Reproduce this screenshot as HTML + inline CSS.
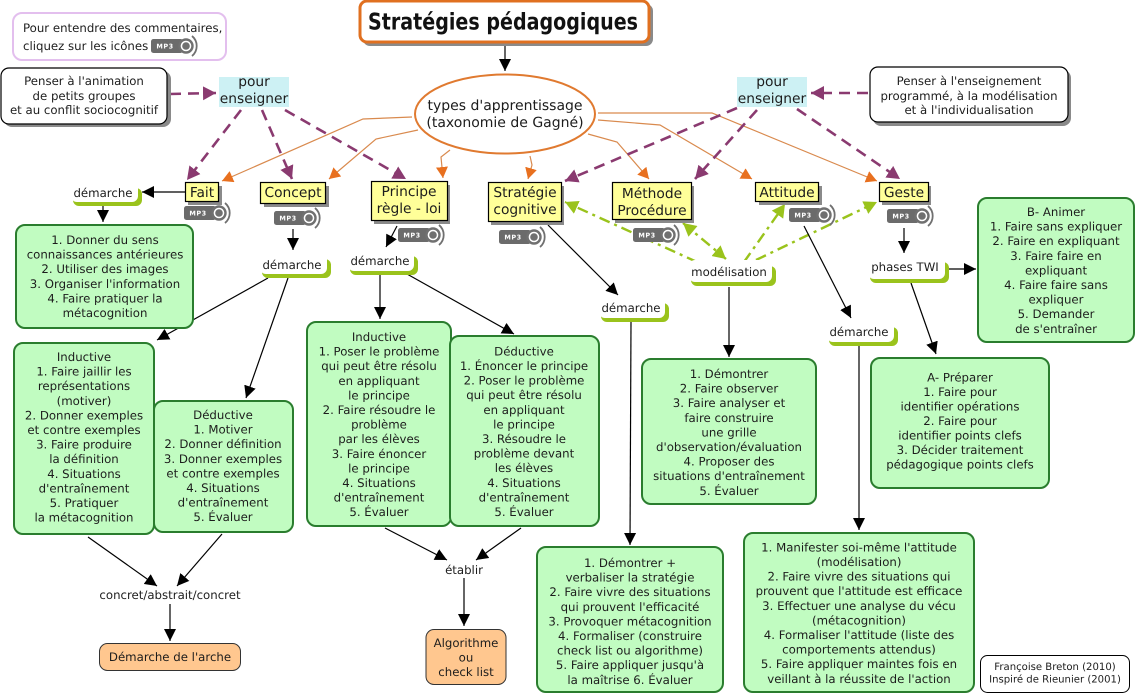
<!DOCTYPE html>
<html lang="fr"><head><meta charset="utf-8"><title>Stratégies pédagogiques</title>
<style>
html,body{margin:0;padding:0;background:#fff;width:1136px;height:695px;overflow:hidden}
svg{display:block}
text{font-family:"DejaVu Sans","Liberation Sans",sans-serif;fill:#1c1c1c;text-anchor:middle;text-rendering:geometricPrecision}
.t{font-size:11.75px}
.y{font-size:13.8px}
.k{stroke:#000;stroke-width:1.2;fill:none;marker-end:url(#mk)}
.p{stroke:#8a3a70;stroke-width:2.6;fill:none;stroke-dasharray:11 7;marker-end:url(#mp)}
.o{stroke:#d98a4e;stroke-width:1.2;fill:none;marker-end:url(#mo)}
.g{stroke:#9ac31c;stroke-width:2.4;fill:none;stroke-dasharray:11 5 3 5;marker-end:url(#mg)}
.b{fill:#c1fcc1;stroke:#2a7d2e;stroke-width:2}
.ye{fill:#ffff99;stroke:#000;stroke-width:1.2}
.sh{fill:#8a8a8a}
.c{fill:#cdf1f4}
.or{fill:#ffc78f;stroke:#333;stroke-width:1}
.gl{fill:#9ac31c}
.m{font-size:6.5px;font-weight:bold;fill:#fff;letter-spacing:.5px}
</style></head><body>
<svg width="1136" height="695" viewBox="0 0 1136 695" xmlns="http://www.w3.org/2000/svg">
<defs>
<marker id="mk" markerUnits="userSpaceOnUse" markerWidth="12" markerHeight="12" refX="12" refY="6" orient="auto"><path d="M0,0L12,6L0,12z" fill="#000"/></marker>
<marker id="mp" markerUnits="userSpaceOnUse" markerWidth="14" markerHeight="14" refX="13" refY="7" orient="auto"><path d="M0,0L13,7L0,14z" fill="#8a3a70"/></marker>
<marker id="mo" markerUnits="userSpaceOnUse" markerWidth="12" markerHeight="12" refX="11" refY="6" orient="auto"><path d="M0,0L11,6L0,12z" fill="#e8701f"/></marker>
<marker id="mg" markerUnits="userSpaceOnUse" markerWidth="14" markerHeight="14" refX="13" refY="7" orient="auto"><path d="M0,0L13,7L0,14z" fill="#9ac31c"/></marker>
<marker id="mgs" markerUnits="userSpaceOnUse" markerWidth="14" markerHeight="14" refX="0" refY="7" orient="auto"><path d="M13,0L0,7L13,14z" fill="#9ac31c"/></marker>
</defs>

<!-- orange connectors -->
<polyline class="o" points="412,117 363,119 222,181"/>
<polyline class="o" points="418,130 376,139 329,179"/>
<polyline class="o" points="450,150 441,157 443,178"/>
<polyline class="o" points="530,156 532,165 528,179"/>
<polyline class="o" points="588,134 617,142 649,179"/>
<polyline class="o" points="598,120 660,125 752,179"/>
<polyline class="o" points="598,113 712,113 877,181"/>

<!-- purple dashed -->
<path class="p" d="M170,94L216,93"/>
<path class="p" d="M241,110L187,180"/>
<path class="p" d="M262,110L292,179"/>
<path class="p" d="M285,110L406,179"/>
<path class="p" d="M868,93L811,93"/>
<path class="p" d="M737,108L565,181"/>
<path class="p" d="M757,110L695,179"/>
<path class="p" d="M797,109L900,179"/>

<!-- green dash-dot -->
<path class="g" d="M697,262L565,202"/>
<path class="g" style="marker-start:url(#mgs)" d="M683,223L726,259"/>
<path class="g" d="M744,262L785,204"/>
<path class="g" d="M756,260L877,202"/>

<!-- black connectors -->
<path class="k" d="M505,46V71"/>
<path class="k" d="M185,192H142"/>
<path class="k" d="M103,206V222"/>
<path class="k" d="M293,229V250"/>
<path class="k" d="M268,278L157,340"/>
<path class="k" d="M288,278L246,398"/>
<path class="k" d="M397,226L386,247"/>
<path class="k" d="M380,275V319"/>
<path class="k" d="M407,274L514,334"/>
<path class="k" d="M548,225L618,295"/>
<path class="k" d="M631,322L630,545"/>
<path class="k" d="M729,287V357"/>
<path class="k" d="M804,226L851,318"/>
<path class="k" d="M859,346V530"/>
<path class="k" d="M904,228V253"/>
<path class="k" d="M949,269H976"/>
<path class="k" d="M911,283L936,354"/>
<path class="k" d="M88,537L157,586"/>
<path class="k" d="M222,534L177,586"/>
<path class="k" d="M170,604V641"/>
<path class="k" d="M385,528L447,560"/>
<path class="k" d="M521,528L476,560"/>
<path class="k" d="M464,578V626"/>

<!-- title -->
<rect class="sh" x="363" y="4" width="290" height="42" rx="7"/>
<rect x="360" y="1" width="289" height="41" rx="7" fill="#fff" stroke="#e07020" stroke-width="3"/>
<text x="503" y="29.500" textLength="270" lengthAdjust="spacingAndGlyphs" style="font-size:23px;font-weight:bold;fill:#111">Stratégies pédagogiques</text>

<!-- legend -->
<rect x="13" y="13" width="213" height="47" rx="9" fill="#fff" stroke="#e3bfee" stroke-width="2"/>
<text class="t" x="23" y="32" style="text-anchor:start">Pour entendre des commentaires,</text>
<text class="t" x="23" y="50" style="text-anchor:start">cliquez sur les icônes</text>

<!-- notes -->
<rect class="sh" x="4" y="71" width="167" height="56" rx="8"/>
<rect x="1" y="68" width="166" height="56" rx="8" fill="#fff" stroke="#000" stroke-width="1.2"/>
<text class="t"><tspan x="84" y="85">Penser à l'animation</tspan><tspan x="84" y="100">de petits groupes</tspan><tspan x="84" y="114">et au conflit sociocognitif</tspan></text>
<rect class="sh" x="873" y="70" width="198" height="56" rx="8"/>
<rect x="870" y="67" width="198" height="55" rx="8" fill="#fff" stroke="#000" stroke-width="1.2"/>
<text class="t"><tspan x="969" y="85">Penser à l'enseignement</tspan><tspan x="969" y="100">programmé, à la modélisation</tspan><tspan x="969" y="114">et à l'individualisation</tspan></text>

<!-- pour enseigner -->
<rect class="c" x="219" y="77" width="70" height="30"/>
<text class="y"><tspan x="254" y="86">pour</tspan><tspan x="254" y="103">enseigner</tspan></text>
<rect class="c" x="737" y="77" width="70" height="30"/>
<text class="y"><tspan x="772" y="86">pour</tspan><tspan x="772" y="103">enseigner</tspan></text>

<!-- ellipse -->
<ellipse cx="505" cy="114" rx="90" ry="39.5" fill="#fff" stroke="#e07a30" stroke-width="2"/>
<text style="font-size:14px"><tspan x="505" y="110">types d'apprentissage</tspan><tspan x="505" y="127">(taxonomie de Gagné)</tspan></text>

<!-- yellow concepts -->
<rect class="sh" x="188" y="186" width="34" height="19"/><rect class="ye" x="185.500" y="182.500" width="33" height="19"/>
<text class="y" x="202" y="197">Fait</text>
<rect class="sh" x="264" y="186" width="65" height="21"/><rect class="ye" x="260.500" y="182.500" width="65" height="21"/>
<text class="y" x="293" y="197">Concept</text>
<rect class="sh" x="374" y="185" width="76" height="39"/><rect class="ye" x="371.500" y="181.500" width="76" height="39"/>
<text class="y"><tspan x="409" y="196">Principe</tspan><tspan x="409" y="213">règle - loi</tspan></text>
<rect class="sh" x="491" y="186" width="73" height="39"/><rect class="ye" x="488.500" y="182.500" width="73" height="39"/>
<text class="y"><tspan x="525" y="197">Stratégie</tspan><tspan x="525" y="214">cognitive</tspan></text>
<rect class="sh" x="615" y="186" width="79" height="37"/><rect class="ye" x="612.500" y="182.500" width="79" height="37"/>
<text class="y"><tspan x="652" y="198">Méthode</tspan><tspan x="652" y="215">Procédure</tspan></text>
<rect class="sh" x="759" y="186" width="63" height="19"/><rect class="ye" x="755.500" y="182.500" width="63" height="19"/>
<text class="y" x="787" y="197">Attitude</text>
<rect class="sh" x="882" y="186" width="49" height="19"/><rect class="ye" x="879.500" y="182.500" width="49" height="19"/>
<text class="y" x="904" y="197">Geste</text>

<!-- linking phrases -->
<rect class="gl" x="73" y="188" width="69" height="18" rx="6"/><rect x="71" y="182" width="67" height="20" rx="6" fill="#fff"/>
<text class="t" x="103" y="197">démarche</text>
<rect class="gl" x="262" y="259" width="69" height="19" rx="6"/><rect x="260" y="253" width="67" height="21" rx="6" fill="#fff"/>
<text class="t" x="292" y="269">démarche</text>
<rect class="gl" x="350" y="256" width="68" height="19" rx="6"/><rect x="348" y="250" width="66" height="21" rx="6" fill="#fff"/>
<text class="t" x="380" y="265">démarche</text>
<rect class="gl" x="601" y="303" width="68" height="19" rx="6"/><rect x="599" y="297" width="66" height="21" rx="6" fill="#fff"/>
<text class="t" x="631" y="312">démarche</text>
<rect class="gl" x="691" y="266" width="85" height="20" rx="6"/><rect x="689" y="260" width="83" height="22" rx="6" fill="#fff"/>
<text class="t" x="729" y="276">modélisation</text>
<rect class="gl" x="829" y="327" width="69" height="19" rx="6"/><rect x="827" y="321" width="67" height="21" rx="6" fill="#fff"/>
<text class="t" x="859" y="336">démarche</text>
<rect class="gl" x="870" y="262" width="79" height="21" rx="6"/><rect x="868" y="256" width="77" height="23" rx="6" fill="#fff"/>
<text class="t" x="905" y="271">phases TWI</text>

<text class="t" x="170" y="599">concret/abstrait/concret</text>
<text class="t" x="464" y="574">établir</text>

<!-- green boxes -->
<rect class="b" x="16" y="225" width="177" height="103" rx="9"/>
<text class="t"><tspan x="105" y="244">1. Donner du sens</tspan><tspan x="105" y="258.600">connaissances antérieures</tspan><tspan x="105" y="273.200">2. Utiliser des images</tspan><tspan x="105" y="287.800">3. Organiser l'information</tspan><tspan x="105" y="302.400">4. Faire pratiquer la</tspan><tspan x="105" y="317">métacognition</tspan></text>

<rect class="b" x="14" y="343" width="140" height="191" rx="9"/>
<text class="t"><tspan x="84" y="361">Inductive</tspan><tspan x="84" y="375.600">1. Faire jaillir les</tspan><tspan x="84" y="390.200">représentations</tspan><tspan x="84" y="404.800">(motiver)</tspan><tspan x="84" y="419.400">2. Donner exemples</tspan><tspan x="84" y="434">et contre exemples</tspan><tspan x="84" y="448.600">3. Faire produire</tspan><tspan x="84" y="463.200">la définition</tspan><tspan x="84" y="477.800">4. Situations</tspan><tspan x="84" y="492.400">d'entraînement</tspan><tspan x="84" y="507">5. Pratiquer</tspan><tspan x="84" y="521.600">la métacognition</tspan></text>

<rect class="b" x="154" y="401" width="139" height="131" rx="9"/>
<text class="t"><tspan x="223" y="419">Déductive</tspan><tspan x="223" y="433.600">1. Motiver</tspan><tspan x="223" y="448.200">2. Donner définition</tspan><tspan x="223" y="462.800">3. Donner exemples</tspan><tspan x="223" y="477.400">et contre exemples</tspan><tspan x="223" y="492">4. Situations</tspan><tspan x="223" y="506.600">d'entraînement</tspan><tspan x="223" y="521.200">5. Évaluer</tspan></text>

<rect class="b" x="307" y="322" width="144" height="204" rx="9"/>
<text class="t"><tspan x="379" y="341">Inductive</tspan><tspan x="379" y="355.600">1. Poser le problème</tspan><tspan x="379" y="370.200">qui peut être résolu</tspan><tspan x="379" y="384.800">en appliquant</tspan><tspan x="379" y="399.400">le principe</tspan><tspan x="379" y="414">2. Faire résoudre le</tspan><tspan x="379" y="428.600">problème</tspan><tspan x="379" y="443.200">par les élèves</tspan><tspan x="379" y="457.800">3. Faire énoncer</tspan><tspan x="379" y="472.400">le principe</tspan><tspan x="379" y="487">4. Situations</tspan><tspan x="379" y="501.600">d'entraînement</tspan><tspan x="379" y="516.200">5. Évaluer</tspan></text>

<rect class="b" x="450" y="336" width="149" height="190" rx="9"/>
<text class="t"><tspan x="524" y="355.400">Déductive</tspan><tspan x="524" y="370">1. Énoncer le principe</tspan><tspan x="524" y="384.600">2. Poser le problème</tspan><tspan x="524" y="399.200">qui peut être résolu</tspan><tspan x="524" y="413.800">en appliquant</tspan><tspan x="524" y="428.400">le principe</tspan><tspan x="524" y="443">3. Résoudre le</tspan><tspan x="524" y="457.600">problème devant</tspan><tspan x="524" y="472.200">les élèves</tspan><tspan x="524" y="486.800">4. Situations</tspan><tspan x="524" y="501.400">d'entraînement</tspan><tspan x="524" y="516">5. Évaluer</tspan></text>

<rect class="b" x="537" y="547" width="186" height="145" rx="9"/>
<text class="t"><tspan x="630" y="567">1. Démontrer +</tspan><tspan x="630" y="581.600">verbaliser la stratégie</tspan><tspan x="630" y="596.200">2. Faire vivre des situations</tspan><tspan x="630" y="610.800">qui prouvent l'efficacité</tspan><tspan x="630" y="625.400">3. Provoquer métacognition</tspan><tspan x="630" y="640">4. Formaliser (construire</tspan><tspan x="630" y="654.600">check list ou algorithme)</tspan><tspan x="630" y="669.200">5. Faire appliquer jusqu'à</tspan><tspan x="630" y="683.800">la maîtrise 6. Évaluer</tspan></text>

<rect class="b" x="642" y="359" width="174" height="145" rx="9"/>
<text class="t"><tspan x="729" y="378">1. Démontrer</tspan><tspan x="729" y="392.600">2. Faire observer</tspan><tspan x="729" y="407.200">3. Faire analyser et</tspan><tspan x="729" y="421.800">faire construire</tspan><tspan x="729" y="436.400">une grille</tspan><tspan x="729" y="451">d'observation/évaluation</tspan><tspan x="729" y="465.600">4. Proposer des</tspan><tspan x="729" y="480.200">situations d'entraînement</tspan><tspan x="729" y="494.800">5. Évaluer</tspan></text>

<rect class="b" x="871" y="358" width="178" height="130" rx="9"/>
<text class="t"><tspan x="960" y="381.500">A- Préparer</tspan><tspan x="960" y="396">1. Faire pour</tspan><tspan x="960" y="410.500">identifier opérations</tspan><tspan x="960" y="425">2. Faire pour</tspan><tspan x="960" y="439.500">identifier points clefs</tspan><tspan x="960" y="454">3. Décider traitement</tspan><tspan x="960" y="468.500">pédagogique points clefs</tspan></text>

<rect class="b" x="744" y="533" width="230" height="159" rx="9"/>
<text class="t"><tspan x="859" y="551.500">1. Manifester soi-même l'attitude</tspan><tspan x="859" y="566">(modélisation)</tspan><tspan x="859" y="580.600">2. Faire vivre des situations qui</tspan><tspan x="859" y="595.200">prouvent que l'attitude est efficace</tspan><tspan x="859" y="609.800">3. Effectuer une analyse du vécu</tspan><tspan x="859" y="624.400">(métacognition)</tspan><tspan x="859" y="639">4. Formaliser l'attitude (liste des</tspan><tspan x="859" y="653.600">comportements attendus)</tspan><tspan x="859" y="668.200">5. Faire appliquer maintes fois en</tspan><tspan x="859" y="682.800">veillant à la réussite de l'action</tspan></text>

<rect class="b" x="978" y="198" width="156" height="144" rx="9"/>
<text class="t"><tspan x="1056" y="216">B- Animer</tspan><tspan x="1056" y="230.600">1. Faire sans expliquer</tspan><tspan x="1056" y="245.200">2. Faire en expliquant</tspan><tspan x="1056" y="259.800">3. Faire faire en</tspan><tspan x="1056" y="274.400">expliquant</tspan><tspan x="1056" y="289">4. Faire faire sans</tspan><tspan x="1056" y="303.600">expliquer</tspan><tspan x="1056" y="318.200">5. Demander</tspan><tspan x="1056" y="332.800">de s'entraîner</tspan></text>

<!-- orange boxes -->
<rect class="or" x="99.500" y="643.500" width="141" height="27" rx="8"/>
<text class="t" x="170" y="661">Démarche de l'arche</text>
<rect class="or" x="426" y="629.500" width="80" height="55" rx="8"/>
<text class="t"><tspan x="466" y="647">Algorithme</tspan><tspan x="466" y="661.500">ou</tspan><tspan x="466" y="676">check list</tspan></text>

<!-- credits -->
<rect x="980.500" y="655.500" width="149" height="37" rx="7" fill="#fff" stroke="#000" stroke-width="1"/>
<text style="font-size:10.1px"><tspan x="1055" y="670">Françoise Breton (2010)</tspan><tspan x="1055" y="682.500">Inspiré de Rieunier (2001)</tspan></text>

<!-- MP3 icons -->
<g transform="translate(151,46)"><rect x="0" y="-7" width="32" height="14" rx="2.500" fill="#6b6b6b"/><text class="m" x="14" y="2.500">MP3</text><circle cx="35" cy="0" r="6.500" fill="#fff" stroke="#707070" stroke-width="2.400"/><circle cx="35" cy="0" r="3.800" fill="#707070"/><path d="M41,-10A13,13 0 0 1 41,10" fill="none" stroke="#707070" stroke-width="1.800"/></g>
<g transform="translate(184,213)"><rect x="0" y="-7" width="32" height="14" rx="2.500" fill="#6b6b6b"/><text class="m" x="14" y="2.500">MP3</text><circle cx="35" cy="0" r="6.500" fill="#fff" stroke="#707070" stroke-width="2.400"/><circle cx="35" cy="0" r="3.800" fill="#707070"/><path d="M41,-10A13,13 0 0 1 41,10" fill="none" stroke="#707070" stroke-width="1.800"/></g>
<g transform="translate(274,218)"><rect x="0" y="-7" width="32" height="14" rx="2.500" fill="#6b6b6b"/><text class="m" x="14" y="2.500">MP3</text><circle cx="35" cy="0" r="6.500" fill="#fff" stroke="#707070" stroke-width="2.400"/><circle cx="35" cy="0" r="3.800" fill="#707070"/><path d="M41,-10A13,13 0 0 1 41,10" fill="none" stroke="#707070" stroke-width="1.800"/></g>
<g transform="translate(398,235)"><rect x="0" y="-7" width="32" height="14" rx="2.500" fill="#6b6b6b"/><text class="m" x="14" y="2.500">MP3</text><circle cx="35" cy="0" r="6.500" fill="#fff" stroke="#707070" stroke-width="2.400"/><circle cx="35" cy="0" r="3.800" fill="#707070"/><path d="M41,-10A13,13 0 0 1 41,10" fill="none" stroke="#707070" stroke-width="1.800"/></g>
<g transform="translate(499,237)"><rect x="0" y="-7" width="32" height="14" rx="2.500" fill="#6b6b6b"/><text class="m" x="14" y="2.500">MP3</text><circle cx="35" cy="0" r="6.500" fill="#fff" stroke="#707070" stroke-width="2.400"/><circle cx="35" cy="0" r="3.800" fill="#707070"/><path d="M41,-10A13,13 0 0 1 41,10" fill="none" stroke="#707070" stroke-width="1.800"/></g>
<g transform="translate(633,235)"><rect x="0" y="-7" width="32" height="14" rx="2.500" fill="#6b6b6b"/><text class="m" x="14" y="2.500">MP3</text><circle cx="35" cy="0" r="6.500" fill="#fff" stroke="#707070" stroke-width="2.400"/><circle cx="35" cy="0" r="3.800" fill="#707070"/><path d="M41,-10A13,13 0 0 1 41,10" fill="none" stroke="#707070" stroke-width="1.800"/></g>
<g transform="translate(789,215)"><rect x="0" y="-7" width="32" height="14" rx="2.500" fill="#6b6b6b"/><text class="m" x="14" y="2.500">MP3</text><circle cx="35" cy="0" r="6.500" fill="#fff" stroke="#707070" stroke-width="2.400"/><circle cx="35" cy="0" r="3.800" fill="#707070"/><path d="M41,-10A13,13 0 0 1 41,10" fill="none" stroke="#707070" stroke-width="1.800"/></g>
<g transform="translate(887,216)"><rect x="0" y="-7" width="32" height="14" rx="2.500" fill="#6b6b6b"/><text class="m" x="14" y="2.500">MP3</text><circle cx="35" cy="0" r="6.500" fill="#fff" stroke="#707070" stroke-width="2.400"/><circle cx="35" cy="0" r="3.800" fill="#707070"/><path d="M41,-10A13,13 0 0 1 41,10" fill="none" stroke="#707070" stroke-width="1.800"/></g>
</svg>
</body></html>
